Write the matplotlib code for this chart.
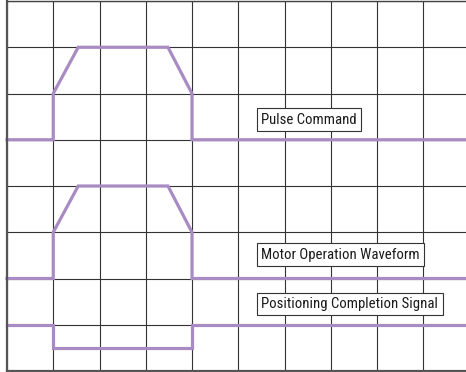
import matplotlib
matplotlib.use("Agg")
import matplotlib.pyplot as plt

# Waveform data (grid units: x = time divisions, y = vertical divisions)
pulse_x = [0, 1, 1, 1.54, 3.48, 4, 4, 9.92]
pulse_y = [5, 5, 6, 7, 7, 6, 5, 5]
motor_x = [0, 1, 1, 1.54, 3.48, 4, 4, 9.92]
motor_y = [2, 2, 3, 4, 4, 3, 2, 2]
pos_x = [0, 1, 1, 4, 4, 9.92]
pos_y = [1, 1, 0.5, 0.5, 1, 1]

labels = ["Pulse Command", "Motor Operation Waveform", "Positioning Completion Signal"]
label_x = [5.50, 5.50, 5.50]
label_y = [5.43, 2.515, 1.45]

purple = "#a98bc3"
fig = plt.figure(figsize=(4.66, 3.72), dpi=100)
ax = fig.add_axes([7/466, 1/372, 459/466, 370/372])
ax.set_xlim(0, 459/46.25)
ax.set_ylim(0, 8)
ax.set_xticks(range(0, 10))
ax.set_yticks(range(0, 9))
ax.tick_params(length=0, labelbottom=False, labelleft=False)
ax.grid(True, color="#333333", linewidth=0.8)
ax.set_axisbelow(True)
for s in ["left", "bottom"]:
    ax.spines[s].set_linewidth(1.6)
    ax.spines[s].set_color("#555555")
ax.spines["top"].set_linewidth(1.0)
ax.spines["top"].set_color("#444444")
ax.spines["right"].set_visible(False)

for xs, ys in [(pulse_x, pulse_y), (motor_x, motor_y), (pos_x, pos_y)]:
    ax.plot(xs, ys, color=purple, linewidth=2.3, solid_joinstyle="miter", clip_on=False)

for t, x, y in zip(labels, label_x, label_y):
    ax.text(x, y, t, ha="left", va="center", fontsize=10.6,
            family=["Roboto Condensed", "DejaVu Sans"], color="#1a1a1a",
            bbox=dict(boxstyle="square,pad=0.3", facecolor="white", edgecolor="#333333", linewidth=0.8))

fig.savefig("out.png", dpi=100)
